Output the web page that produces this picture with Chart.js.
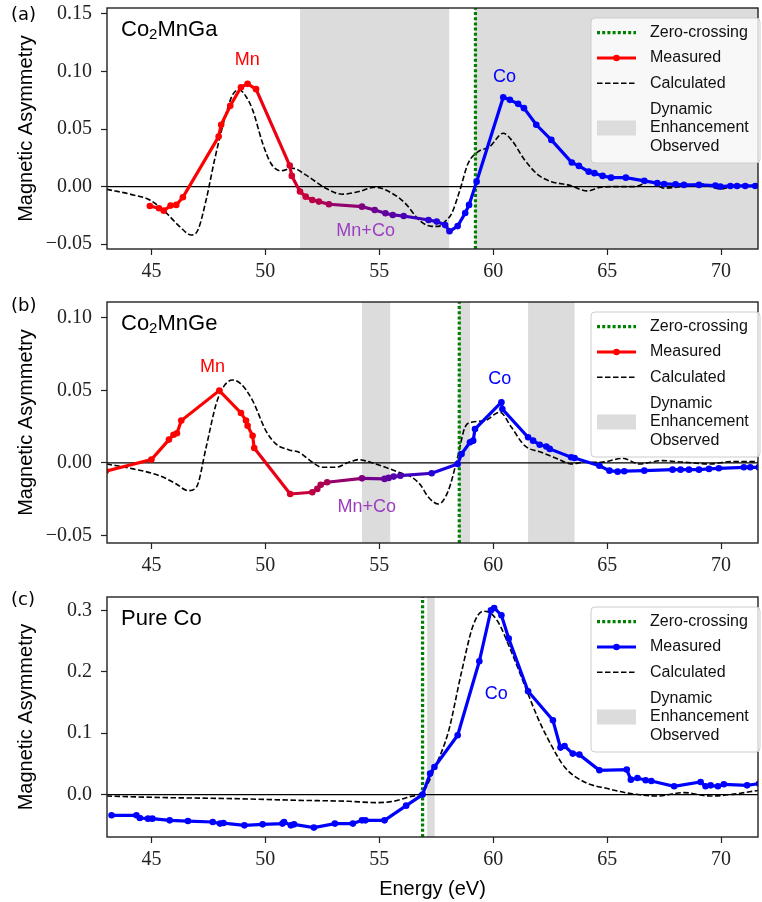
<!DOCTYPE html>
<html>
<head>
<meta charset="utf-8">
<script src="https://cdn.jsdelivr.net/npm/chart.js@4.4.0/dist/chart.umd.min.js"></script>
<style>
  body { margin: 0; background: #fff; }
  #wrap { position: relative; width: 762px; height: 902px; }
  canvas { position: absolute; left: 0; }
</style>
</head>
<body>
<div id="wrap">
  <canvas id="panelA" width="762" height="295" style="top:0"></canvas>
  <canvas id="panelB" width="762" height="290" style="top:295px"></canvas>
  <canvas id="panelC" width="762" height="317" style="top:585px"></canvas>
</div>
<script>
// shared energy axis
const xMin = 43.05, xMax = 71.62;
const xTicks = [45, 50, 55, 60, 65, 70];

// (a) Co2MnGa
const energyMeasA = [44.93, 45.33, 45.54, 45.84, 46.09, 46.38, 47.95, 48.06, 48.46, 48.93, 49.22, 49.59,
  51.07, 51.16, 51.52, 51.77, 52.06, 52.35, 52.79, 54.24, 54.80, 55.27, 55.59, 56.07, 57.16, 57.52, 57.89,
  58.08, 58.44, 58.77, 58.94, 59.27, 60.44, 60.73, 61.09, 61.35, 61.89, 62.55, 63.45, 63.76, 64.19, 64.44,
  64.80, 65.17, 65.82, 66.63, 67.2, 67.5, 68.0, 68.37, 69.03, 69.75, 69.97, 70.41, 70.7, 71.06, 71.5];
const asymMeasA = [-0.0168, -0.0188, -0.0209, -0.0165, -0.0159, -0.0092, 0.0435, 0.0537, 0.0702, 0.0864, 0.0893, 0.0847,
  0.0183, 0.0093, -0.0043, -0.0087, -0.0116, -0.013, -0.0153, -0.0174, -0.0203, -0.0231, -0.0246, -0.0255, -0.029, -0.0304, -0.0333,
  -0.0388, -0.0343, -0.0229, -0.0159, 0.0043, 0.0777, 0.0754, 0.0719, 0.0682, 0.0537, 0.0406, 0.0209, 0.018, 0.013, 0.0117,
  0.0093, 0.0078, 0.0078, 0.005, 0.003, 0.0023, 0.002, 0.0015, 0.0015, 0.001, 0.0, 0.0006, 0.0006, 0.0006, 0.0006];
const energyCalcA = [43.03, 44.2, 44.93, 45.66, 46.24, 46.75, 47.04, 47.4, 47.77, 48.2, 48.56, 48.86, 49.15, 49.44,
  49.88, 50.24, 50.68, 51.19, 51.77, 52.65, 53.37, 54.1, 54.83, 55.55, 56.14, 56.8, 57.3, 57.6, 57.9, 58.18, 58.54,
  58.9, 59.34, 59.85, 60.44, 60.8, 61.38, 61.97, 62.55, 63.28, 64.15, 64.73, 65.46, 66.19, 66.91, 67.5, 68.22,
  69.1, 69.97, 70.7, 71.62];
const asymCalcA = [-0.0023, -0.0072, -0.0116, -0.0231, -0.0348, -0.042, -0.0377, -0.0116, 0.0232, 0.058, 0.0797, 0.0841, 0.0783, 0.0667,
  0.0377, 0.0203, 0.0137, 0.016, 0.0102, -0.0014, -0.0066, -0.0043, -0.0005, -0.0057, -0.0145, -0.03, -0.0345, -0.0345, -0.03, -0.0232, -0.0029,
  0.0203, 0.0304, 0.0348, 0.0464, 0.0406, 0.0232, 0.0102, 0.0043, 0.0015, -0.0037, -0.0005, 0, 0, 0.0043, -0.0014, 0,
  0.0023, -0.002, 0.0006, 0];
const yTicksA = [-0.05, 0, 0.05, 0.10, 0.15];
const spansA = [[51.52, 58.07], [59.2, 72]];
const zeroCrossA = 59.22;

// (b) Co2MnGe
const energyMeasB = [43.0, 45.0, 45.77, 45.97, 46.12, 46.31, 47.98, 48.93, 49.15, 49.22, 49.44, 49.51,
  51.09, 52.06, 52.28, 52.43, 52.71, 54.24, 55.23, 55.41, 55.63, 55.92, 57.3, 58.44, 58.61, 58.98, 59.12,
  59.2, 60.36, 60.4, 61.53, 61.75, 62.04, 62.33, 62.48, 63.42, 63.57, 64.66, 65.1, 65.46, 65.75, 66.63,
  67.87, 68.22, 68.59, 69.03, 69.47, 69.9, 71.0, 71.28, 71.65];
const asymMeasB = [-0.0057, 0.0023, 0.0161, 0.0195, 0.0205, 0.0292, 0.0499, 0.0345, 0.0292, 0.0257, 0.0188, 0.0103,
  -0.0214, -0.0202, -0.0179, -0.015, -0.0133, -0.0106, -0.011, -0.0103, -0.0094, -0.0088, -0.0071, -0.0007, 0.0062, 0.0143, 0.0154,
  0.0234, 0.0419, 0.0372, 0.0177, 0.0154, 0.0126, 0.0113, 0.0097, 0.0039, 0.0034, -0.0019, -0.0053, -0.006, -0.0057, -0.0053,
  -0.0046, -0.0046, -0.0046, -0.0046, -0.0041, -0.0037, -0.003, -0.003, -0.003];
const energyCalcB = [43.03, 44.2, 45.36, 46.09, 46.6, 46.97, 47.4, 47.84, 48.2, 48.56, 48.93, 49.44, 50.02, 50.46,
  51.04, 51.48, 52.06, 52.5, 53.08, 53.66, 54.1, 54.61, 55.27, 55.85, 56.43, 56.8, 57.16, 57.6, 58.03, 58.4, 58.76,
  59.05, 59.63, 60.29, 60.8, 61.38, 62.11, 62.84, 63.42, 64.0, 64.73, 65.68, 66.41, 67.42, 68.37, 69.53, 70.41, 71.65];
const asymCalcB = [-0.0007, -0.0041, -0.0088, -0.0145, -0.0191, -0.0168, 0.0108, 0.0407, 0.0533, 0.0572, 0.0545, 0.043, 0.0223, 0.0131,
  0.009, 0.0074, 0.0005, -0.003, -0.003, 0.0005, 0.0023, 0.0005, -0.003, -0.0064, -0.0099, -0.015, -0.0237, -0.0283, -0.0191, 0.0016, 0.0246,
  0.0281, 0.0292, 0.035, 0.0246, 0.0119, 0.0074, 0.0028, -0.0007, 0.0005, 0.0005, 0.0032, -0.0007, 0.0016, 0.0005, -0.0007, 0.0009, 0.0009];
const yTicksB = [-0.05, 0, 0.05, 0.10];
const spansB = [[54.24, 55.48], [58.5, 58.98], [61.53, 63.57]];
const zeroCrossB = 58.51;

// (c) pure Co
const energyMeasC = [43.25, 44.34, 44.49, 44.85, 45.04, 45.8, 46.6, 47.69, 48.01, 48.16, 49.08, 49.88, 50.75, 50.82,
  51.12, 51.26, 52.13, 53.05, 53.84, 54.24, 54.39, 55.23, 56.18, 56.9, 57.23, 57.42, 58.44, 59.39, 59.9, 60.04,
  60.36, 60.68, 61.53, 62.62, 62.95, 63.13, 63.49, 63.78, 64.66, 65.86, 66.04, 66.33, 66.69, 66.94, 67.94, 69.1,
  69.32, 69.54, 69.86, 70.12, 71.14, 71.66];
const asymMeasC = [-0.0337, -0.0337, -0.0381, -0.0391, -0.0391, -0.0419, -0.043, -0.0446, -0.0472, -0.0463, -0.05, -0.0484, -0.0472, -0.0446,
  -0.05, -0.0484, -0.0537, -0.0472, -0.0472, -0.0419, -0.0419, -0.0419, -0.018, 0.0, 0.0342, 0.045, 0.0966, 0.217, 0.3002, 0.3039,
  0.292, 0.254, 0.1682, 0.121, 0.0765, 0.0792, 0.0668, 0.0651, 0.0396, 0.0407, 0.0244, 0.027, 0.0233, 0.0221, 0.0135, 0.0205,
  0.0135, 0.0151, 0.0135, 0.0168, 0.0151, 0.0179];
const energyCalcC = [43.03, 45.66, 48.56, 51.48, 53.66, 54.83, 55.6, 56.28, 56.94, 57.45, 58.03, 58.61, 59.12, 59.56,
  59.78, 60.21, 60.8, 61.38, 61.97, 62.55, 63.13, 64.0, 65.02, 66.04, 67.2, 68.37, 69.53, 70.41, 71.66];
const asymCalcC = [-0.0023, -0.0049, -0.0065, -0.0093, -0.0109, -0.013, -0.011, -0.0039, 0.006, 0.045, 0.102, 0.1997, 0.2757, 0.2985,
  0.2974, 0.2811, 0.2322, 0.178, 0.1238, 0.0803, 0.045, 0.0205, 0.0098, 0.0016, -0.0023, 0.0033, -0.0023, 0, 0.007];
const yTicksC = [0, 0.1, 0.2, 0.3];
const spansC = [[57.1, 57.43]];
const zeroCrossC = 56.9;

const SANS = 'Liberation Sans';
const SERIF = 'Liberation Serif';
const GRAY = '#dcdcdc';
const DOTS = [3, 2.2];

const pts = (xs, ys) => xs.map((x, i) => ({x: x, y: ys[i]}));

// red -> blue blend across the Mn/Co overlap
function mixColor(x, palette) {
  if (palette === 'blue') return 'rgb(0,0,255)';
  const t = Math.min(1, Math.max(0, (x - 49.6) / 9.2));
  return 'rgb(' + Math.round(255 * (1 - t)) + ',0,' + Math.round(255 * t) + ')';
}

function fmtTick(v, dec) {
  return v.toFixed(dec).replace('-', '\u2212');
}

const decor = {
  id: 'decor',
  beforeDatasetsDraw(chart, args, o) {
    const {ctx, chartArea: a, scales: {x, y}} = chart;
    ctx.save();
    ctx.fillStyle = GRAY;
    o.spans.forEach(function (s) {
      const x0 = Math.max(a.left, x.getPixelForValue(s[0]));
      const x1 = Math.min(a.right, x.getPixelForValue(s[1]));
      ctx.fillRect(x0, a.top, x1 - x0, a.bottom - a.top);
    });
    const y0 = y.getPixelForValue(0);
    ctx.strokeStyle = '#000';
    ctx.lineWidth = 1.3;
    ctx.beginPath();
    ctx.moveTo(a.left, y0);
    ctx.lineTo(a.right, y0);
    ctx.stroke();
    ctx.restore();
  },
  afterDatasetsDraw(chart, args, o) {
    const {ctx, chartArea: a, scales: {x, y}} = chart;
    ctx.save();
    // peak labels
    ctx.font = '18px "' + SANS + '"';
    ctx.textAlign = 'center';
    ctx.textBaseline = 'middle';
    o.notes.forEach(function (n) {
      ctx.fillStyle = n.color;
      ctx.fillText(n.text, x.getPixelForValue(n.x), y.getPixelForValue(n.y));
    });
    // sample name with subscripts
    let tx = a.left + 14;
    const ty = a.top + 21.5;
    ctx.textAlign = 'left';
    ctx.fillStyle = '#000';
    o.title.forEach(function (part) {
      ctx.font = (part.sub ? 15 : 22) + 'px "' + SANS + '"';
      ctx.fillText(part.t, tx, ty + (part.sub ? 5 : 0));
      tx += ctx.measureText(part.t).width;
    });
    // panel tag
    ctx.font = '18px "DejaVu Sans"';
    ctx.fillText(o.tag, 11, o.tagY);
    // axes frame
    ctx.strokeStyle = '#222';
    ctx.lineWidth = 1.4;
    ctx.strokeRect(a.left, a.top, a.right - a.left, a.bottom - a.top);
    ctx.restore();
  },
  afterDraw(chart, args, o) {
    const {ctx, chartArea: a} = chart;
    const left = 591, right = 760, top = a.top + 10, h = 145;
    ctx.save();
    ctx.beginPath();
    if (ctx.roundRect) ctx.roundRect(left, top, right - left, h, 4);
    else ctx.rect(left, top, right - left, h);
    ctx.fillStyle = 'rgba(255,255,255,0.8)';
    ctx.fill();
    ctx.strokeStyle = '#cccccc';
    ctx.lineWidth = 1;
    ctx.stroke();

    const hx0 = 597, hx1 = 636, tx = 650;
    const rows = [top + 14.7, top + 40, top + 65.3, top + 92, top + 110, top + 128.7];
    // zero-crossing handle
    ctx.strokeStyle = '#008000';
    ctx.lineWidth = 3.2;
    ctx.setLineDash(DOTS);
    ctx.beginPath(); ctx.moveTo(hx0, rows[0]); ctx.lineTo(hx1, rows[0]); ctx.stroke();
    // measured handle
    ctx.setLineDash([]);
    ctx.lineWidth = 3.2;
    ctx.strokeStyle = o.measColor;
    ctx.fillStyle = o.measColor;
    ctx.beginPath(); ctx.moveTo(hx0, rows[1]); ctx.lineTo(hx1, rows[1]); ctx.stroke();
    ctx.beginPath(); ctx.arc((hx0 + hx1) / 2, rows[1], 3.3, 0, Math.PI * 2); ctx.fill();
    // calculated handle
    ctx.strokeStyle = '#000';
    ctx.lineWidth = 1.6;
    ctx.setLineDash([5.5, 2.5]);
    ctx.beginPath(); ctx.moveTo(hx0, rows[2]); ctx.lineTo(hx1, rows[2]); ctx.stroke();
    ctx.setLineDash([]);
    // enhancement patch
    ctx.fillStyle = GRAY;
    ctx.fillRect(hx0, rows[4] - 7.5, hx1 - hx0, 15);

    ctx.fillStyle = '#111';
    ctx.font = '16px "' + SANS + '"';
    ctx.textAlign = 'left';
    ctx.textBaseline = 'middle';
    ['Zero-crossing', 'Measured', 'Calculated', 'Dynamic', 'Enhancement', 'Observed'].forEach(function (t, i) {
      ctx.fillText(t, tx, rows[i]);
    });
    ctx.restore();
  }
};

function makePanel(id, p) {
  const measColor = p.palette === 'blue' ? 'rgb(0,0,255)' : 'rgb(255,0,0)';
  new Chart(document.getElementById(id), {
    type: 'line',
    data: {
      datasets: [
        {
          data: pts(p.measE, p.measY),
          borderColor: measColor,
          borderWidth: 3.2,
          pointRadius: 3.3,
          pointBorderWidth: 0,
          pointBackgroundColor: function (c) { return mixColor(c.raw ? c.raw.x : 0, p.palette); },
          tension: 0,
          segment: {
            borderColor: function (c) { return mixColor((c.p0.parsed.x + c.p1.parsed.x) / 2, p.palette); }
          }
        },
        {
          data: [{x: p.zc, y: p.yMin}, {x: p.zc, y: p.yMax}],
          borderColor: '#008000',
          borderWidth: 3.2,
          borderDash: DOTS,
          pointRadius: 0
        },
        {
          data: pts(p.calcE, p.calcY),
          borderColor: '#000',
          borderWidth: 1.6,
          borderDash: [5.5, 2.5],
          pointRadius: 0,
          cubicInterpolationMode: 'monotone'
        }
      ]
    },
    options: {
      responsive: false,
      animation: false,
      devicePixelRatio: 1,
      layout: {padding: {top: p.padTop, right: 1, bottom: 0, left: 0}},
      plugins: {
        legend: {display: false},
        tooltip: {enabled: false},
        decor: {spans: p.spans, notes: p.notes, title: p.title, tag: p.tag, tagY: p.tagY, measColor: measColor}
      },
      scales: {
        x: {
          type: 'linear',
          min: xMin,
          max: xMax,
          afterBuildTicks: function (s) { s.ticks = xTicks.map(function (v) { return {value: v}; }); },
          afterFit: function (s) { s.height = p.xHeight; s.paddingLeft = 0; s.paddingRight = 0; },
          grid: {drawOnChartArea: false, tickLength: 6, tickColor: '#222', tickWidth: 1.2},
          border: {display: false},
          ticks: {
            color: '#222',
            padding: 5,
            maxRotation: 0,
            font: {family: SERIF, size: 20},
            callback: function (v) { return String(v); }
          },
          title: {
            display: !!p.xTitle,
            text: p.xTitle || '',
            color: '#000',
            font: {family: SANS, size: 20},
            padding: {top: 0, bottom: 1}
          }
        },
        y: {
          min: p.yMin,
          max: p.yMax,
          afterBuildTicks: function (s) { s.ticks = p.yTicks.map(function (v) { return {value: v}; }); },
          afterFit: function (s) { s.width = 107; s.paddingTop = 0; s.paddingBottom = 0; },
          grid: {drawOnChartArea: false, tickLength: 6, tickColor: '#222', tickWidth: 1.2},
          border: {display: false},
          ticks: {
            color: '#222',
            padding: 9,
            font: {family: SERIF, size: 20},
            callback: function (v) { return fmtTick(v, p.yDec); }
          },
          title: {
            display: true,
            text: 'Magnetic Asymmetry',
            color: '#000',
            font: {family: SANS, size: 20},
            padding: {top: 14, bottom: 0}
          }
        }
      }
    },
    plugins: [decor]
  });
}

makePanel('panelA', {
  measE: energyMeasA, measY: asymMeasA, calcE: energyCalcA, calcY: asymCalcA,
  yMin: -0.0542, yMax: 0.1552, yTicks: yTicksA, yDec: 2,
  spans: spansA, zc: zeroCrossA, palette: 'mix',
  padTop: 8, xHeight: 46, tag: '(a)', tagY: 15,
  title: [{t: 'Co'}, {t: '2', sub: true}, {t: 'MnGa'}],
  notes: [
    {text: 'Mn', x: 49.2, y: 0.110, color: '#ff0000'},
    {text: 'Mn+Co', x: 54.4, y: -0.039, color: '#9b3fc0'},
    {text: 'Co', x: 60.5, y: 0.095, color: '#0000ff'}
  ]
});

makePanel('panelB', {
  measE: energyMeasB, measY: asymMeasB, calcE: energyCalcB, calcY: asymCalcB,
  yMin: -0.0552, yMax: 0.111, yTicks: yTicksB, yDec: 2,
  spans: spansB, zc: zeroCrossB, palette: 'mix',
  padTop: 7, xHeight: 42, tag: '(b)', tagY: 11,
  title: [{t: 'Co'}, {t: '2', sub: true}, {t: 'MnGe'}],
  notes: [
    {text: 'Mn', x: 47.68, y: 0.0664, color: '#ff0000'},
    {text: 'Mn+Co', x: 54.45, y: -0.0303, color: '#9b3fc0'},
    {text: 'Co', x: 60.29, y: 0.058, color: '#0000ff'}
  ]
});

makePanel('panelC', {
  measE: energyMeasC, measY: asymMeasC, calcE: energyCalcC, calcY: asymCalcC,
  yMin: -0.069, yMax: 0.3217, yTicks: yTicksC, yDec: 1,
  spans: spansC, zc: zeroCrossC, palette: 'blue',
  padTop: 12, xHeight: 65, tag: '(c)', tagY: 15, xTitle: 'Energy (eV)',
  title: [{t: 'Pure Co'}],
  notes: [
    {text: 'Co', x: 60.13, y: 0.1645, color: '#0000ff'}
  ]
});
</script>
</body>
</html>
